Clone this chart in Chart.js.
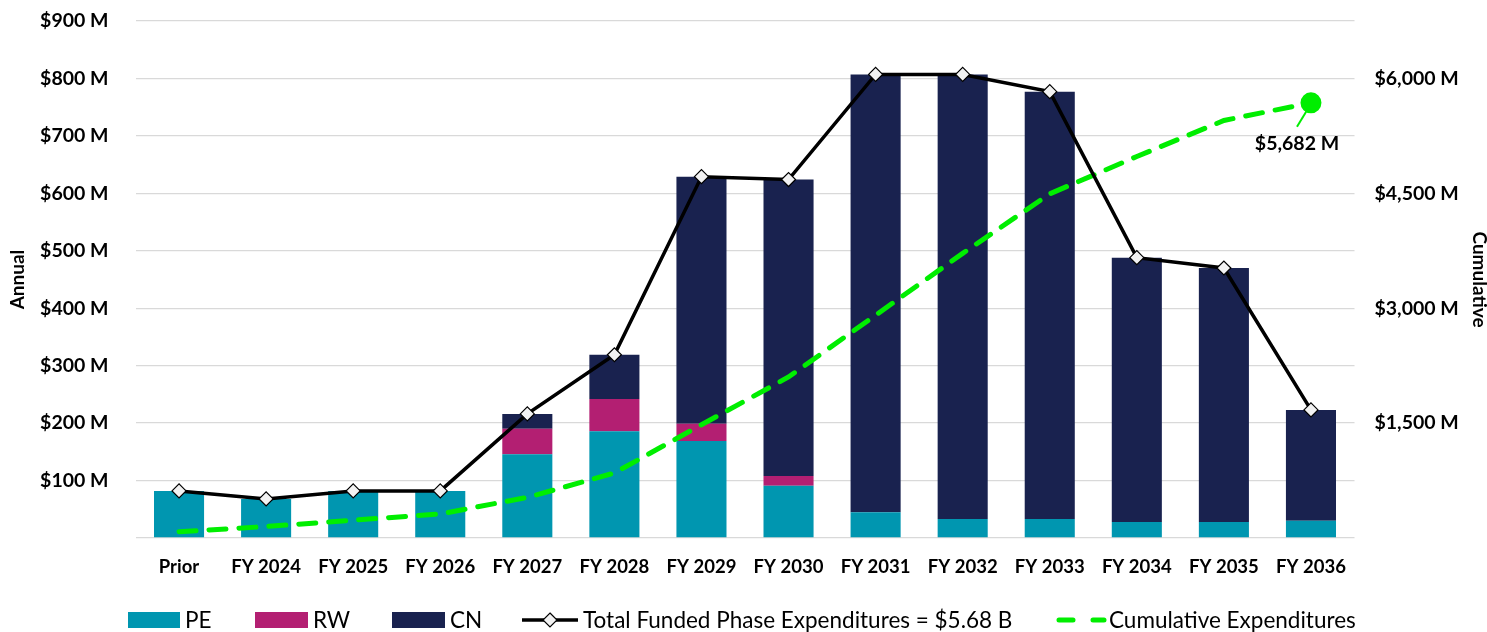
<!DOCTYPE html>
<html>
<head>
<meta charset="utf-8">
<script src="https://cdn.jsdelivr.net/npm/chart.js@4"></script>
<style>
  html, body { margin: 0; padding: 0; background: #fff; }
  #wrap { width: 1487px; height: 632px; }
</style>
</head>
<body>
<div id="wrap"><canvas id="fundingChart" width="1487" height="632"></canvas></div>
<script>
const categories = ['Prior', 'FY 2024', 'FY 2025', 'FY 2026', 'FY 2027', 'FY 2028', 'FY 2029', 'FY 2030', 'FY 2031', 'FY 2032', 'FY 2033', 'FY 2034', 'FY 2035', 'FY 2036']
const peValues = [82, 68, 82, 82, 146, 186, 169, 91, 45, 33, 33, 28, 28, 30]
const rwValues = [0, 0, 0, 0, 44, 56, 30, 17, 0, 0, 0, 0, 0, 0]
const cnValues = [0, 0, 0, 0, 26, 77, 430, 516, 762, 774, 744, 460, 442, 193]
const totalValues = [82, 68, 82, 82, 216, 319, 629, 624, 807, 807, 777, 488, 470, 223]
const cumulativeValues = [82, 150, 232, 314, 530, 849, 1478, 2102, 2909, 3716, 4493, 4981, 5451, 5682]
const annualTicks = [100, 200, 300, 400, 500, 600, 700, 800, 900]
const cumulativeTicks = [1500, 3000, 4500, 6000]

const colors = { pe: '#0096b0', rw: '#b31f72', cn: '#19224f', total: '#000000', cumulative: '#00ee00', grid: '#d9d9d9' }
const fontFamily = 'Lato, "Open Sans", sans-serif'

Chart.defaults.color = '#000'
Chart.defaults.font.family = fontFamily

const fmtMoney = v => '$' + v.toLocaleString('en-US') + ' M'

// Excel-style legend drawn under the plot
const legendPlugin = {
    id: 'excelLegend',
    afterDraw(chart) {
        const ctx = chart.ctx
        const y = 620
        const items = [
            { x: 128, w: 52, kind: 'box', color: colors.pe, text: 'PE' },
            { x: 255, w: 53, kind: 'box', color: colors.rw, text: 'RW' },
            { x: 392, w: 53, kind: 'box', color: colors.cn, text: 'CN' },
            { x: 522, w: 56, kind: 'line', color: colors.total, text: 'Total Funded Phase Expenditures = $5.68 B' },
            { x: 1056, w: 48, kind: 'dash', color: colors.cumulative, text: 'Cumulative Expenditures' }
        ]
        ctx.save()
        items.forEach(item => {
            if (item.kind === 'box') {
                ctx.fillStyle = item.color
                ctx.fillRect(item.x, y - 8, item.w, 16)
            } else if (item.kind === 'line') {
                ctx.strokeStyle = item.color
                ctx.lineWidth = 3.5
                ctx.beginPath()
                ctx.moveTo(item.x, y)
                ctx.lineTo(item.x + item.w, y)
                ctx.stroke()
                const cx = item.x + item.w / 2
                ctx.fillStyle = '#f2f2f2'
                ctx.lineWidth = 1.2
                ctx.beginPath()
                ctx.moveTo(cx, y - 7)
                ctx.lineTo(cx + 7, y)
                ctx.lineTo(cx, y + 7)
                ctx.lineTo(cx - 7, y)
                ctx.closePath()
                ctx.fill()
                ctx.stroke()
            } else {
                ctx.strokeStyle = item.color
                ctx.lineWidth = 5
                ctx.lineCap = 'round'
                ctx.setLineDash([14, 20])
                ctx.beginPath()
                ctx.moveTo(item.x + 3, y)
                ctx.lineTo(item.x + item.w, y)
                ctx.stroke()
                ctx.setLineDash([])
            }
            ctx.fillStyle = '#000'
            ctx.font = '22.5px ' + fontFamily
            ctx.textBaseline = 'middle'
            ctx.textAlign = 'left'
            ctx.fillText(item.text, item.x + item.w + 5, y + 1)
        })
        ctx.restore()
    }
}

// callout for the last cumulative point
const calloutPlugin = {
    id: 'callout',
    afterDatasetsDraw(chart) {
        const meta = chart.getDatasetMeta(4)
        const last = meta.data[meta.data.length - 1]
        if (!last) return
        const ctx = chart.ctx
        ctx.save()
        ctx.strokeStyle = colors.cumulative
        ctx.lineWidth = 2
        ctx.beginPath()
        ctx.moveTo(last.x - 3, last.y + 6)
        ctx.lineTo(last.x - 14, last.y + 24)
        ctx.stroke()
        ctx.fillStyle = '#000'
        ctx.font = 'bold 19.5px ' + fontFamily
        ctx.textAlign = 'center'
        ctx.textBaseline = 'middle'
        ctx.fillText(fmtMoney(cumulativeValues[cumulativeValues.length - 1]), last.x - 14, last.y + 41)
        ctx.restore()
    }
}

const data = {
    labels: categories,
    datasets: [
        { type: 'bar', label: 'PE', data: peValues, backgroundColor: colors.pe, stack: 'phases', yAxisID: 'y', order: 2 },
        { type: 'bar', label: 'RW', data: rwValues, backgroundColor: colors.rw, stack: 'phases', yAxisID: 'y', order: 2 },
        { type: 'bar', label: 'CN', data: cnValues, backgroundColor: colors.cn, stack: 'phases', yAxisID: 'y', order: 2 },
        {
            type: 'line', label: 'Total Funded Phase Expenditures = $5.68 B', data: totalValues,
            borderColor: colors.total, borderWidth: 3.5, stack: 'total', yAxisID: 'y', order: 0,
            pointStyle: 'rectRot', pointRadius: 7, pointBackgroundColor: '#f2f2f2', pointBorderColor: '#000', pointBorderWidth: 1.2,
            tension: 0
        },
        {
            type: 'line', label: 'Cumulative Expenditures', data: cumulativeValues,
            borderColor: colors.cumulative, borderWidth: 5, borderDash: [17, 13], borderCapStyle: 'round',
            yAxisID: 'y1', stack: 'cumulative', order: 1,
            pointRadius: cumulativeValues.map((v, i) => i === cumulativeValues.length - 1 ? 8 : 0),
            pointBackgroundColor: colors.cumulative, pointBorderColor: colors.cumulative,
            tension: 0
        }
    ]
}

const options = {
    responsive: false,
    animation: false,
    layout: { padding: { top: 21, bottom: 0, left: 0, right: 0 } },
    plugins: {
        legend: { display: false },
        tooltip: { enabled: false }
    },
    datasets: {
        bar: { categoryPercentage: 1, barPercentage: 0.575 }
    },
    scales: {
        x: {
            stacked: true,
            grid: { display: false },
            border: { display: false },
            ticks: { font: { size: 18.5, weight: 'bold' }, padding: 10, maxRotation: 0 },
            afterFit: scale => { scale.height = 94 }
        },
        y: {
            position: 'left',
            stacked: true,
            min: 0,
            max: 900,
            afterBuildTicks: scale => { scale.ticks = [0, ...annualTicks].map(v => ({ value: v })) },
            grid: { color: colors.grid, lineWidth: 1.3, drawTicks: true, tickLength: 18, tickColor: 'rgba(0,0,0,0)' },
            border: { display: false },
            ticks: {
                font: { size: 19.5, weight: 'bold' },
                padding: 9,
                callback: v => v === 0 ? '' : fmtMoney(v)
            },
            title: { display: true, text: 'Annual', font: { size: 19, weight: 'bold' }, padding: { top: 6.5, bottom: 0 } },
            afterFit: scale => { scale.width = 135.5 }
        },
        y1: {
            position: 'right',
            min: 0,
            max: 6750,
            afterBuildTicks: scale => { scale.ticks = [0, ...cumulativeTicks].map(v => ({ value: v })) },
            grid: { display: false, drawTicks: true, tickLength: 11 },
            border: { display: false },
            ticks: {
                font: { size: 19.5, weight: 'bold' },
                padding: 9,
                callback: v => v === 0 ? '' : fmtMoney(v)
            },
            title: { display: true, text: 'Cumulative', font: { size: 19, weight: 'bold' }, padding: { top: -4, bottom: 0 } },
            afterFit: scale => { scale.width = 132.5 }
        }
    }
}

new Chart('fundingChart', { data, options, plugins: [legendPlugin, calloutPlugin] })
</script>
</body>
</html>
